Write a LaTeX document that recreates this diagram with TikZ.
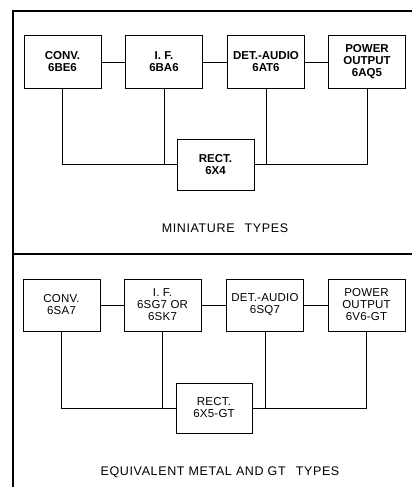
\documentclass[tikz,border=0pt]{standalone}
\usepackage{fontspec}
\setmainfont{Liberation Sans}
\newfontfamily\boxfont[LetterSpace=2]{Liberation Sans}
\newfontfamily\capfont[LetterSpace=5]{Liberation Sans}
\begin{document}
\begin{tikzpicture}[x=1pt,y=-1pt,
  blk/.style={draw, line width=1pt, minimum width=77pt, minimum height=52pt,
    inner sep=0pt, align=center, font=\boxfont\fontsize{11.5}{12}\selectfont},
  topblk/.style={blk, font=\bfseries\fontsize{11.5}{12}\selectfont},
  wire/.style={line width=0.9pt},
  frame/.style={line width=1.6pt},
  caption/.style={font=\capfont\fontsize{12.5}{14}\selectfont}]
\useasboundingbox (0,0) rectangle (412,487);
% frame
\coordinate (ftl) at (13,11);
\coordinate (ftr) at (412,11);
\coordinate (fbl) at (13,487);
\coordinate (fml) at (13,254);
\coordinate (fmr) at (412,254);
\draw[frame] (ftr) -- (ftl) -- (fbl);
\draw[frame] (fml) -- (fmr);
% top: miniature types
\node[topblk] (conv1) at (62.5,62) {CONV.\\6BE6};
\node[topblk] (if1) at (164,62) {I. F.\\6BA6};
\node[topblk] (det1) at (266,62) {DET.-AUDIO\\6AT6};
\node[topblk] (pow1) at (367,62) {POWER\\OUTPUT\\6AQ5};
\node[topblk, minimum height=51pt] (rect1) at (215.5,164.5) {RECT.\\6X4};
\draw[wire] (conv1) -- (if1);
\draw[wire] (if1) -- (det1);
\draw[wire] (det1) -- (pow1);
\draw[wire] (conv1.south) |- (rect1.west);
\draw[wire] (if1.south) -- (if1.south |- rect1.west);
\draw[wire] (pow1.south) |- (rect1.east);
\draw[wire] (det1.south) -- (det1.south |- rect1.east);
\node[caption] (cap1) at (225,228) {MINIATURE\hspace{6pt} TYPES};
% bottom: metal and GT types
\node[blk] (conv2) at (61.5,305) {CONV.\\6SA7};
\node[blk] (if2) at (162.5,305) {I. F.\\6SG7 OR\\6SK7};
\node[blk] (det2) at (265,305) {DET.-AUDIO\\6SQ7};
\node[blk] (pow2) at (366.5,305) {POWER\\OUTPUT\\6V6-GT};
\node[blk, minimum width=76pt, minimum height=50pt] (rect2) at (214,408) {RECT.\\6X5-GT};
\draw[wire] (conv2) -- (if2);
\draw[wire] (if2) -- (det2);
\draw[wire] (det2) -- (pow2);
\draw[wire] (conv2.south) |- (rect2.west);
\draw[wire] (if2.south) -- (if2.south |- rect2.west);
\draw[wire] (pow2.south) |- (rect2.east);
\draw[wire] (det2.south) -- (det2.south |- rect2.east);
\node[caption] (cap2) at (220,472) {EQUIVALENT METAL AND GT\hspace{6pt} TYPES};
\end{tikzpicture}
\end{document}
